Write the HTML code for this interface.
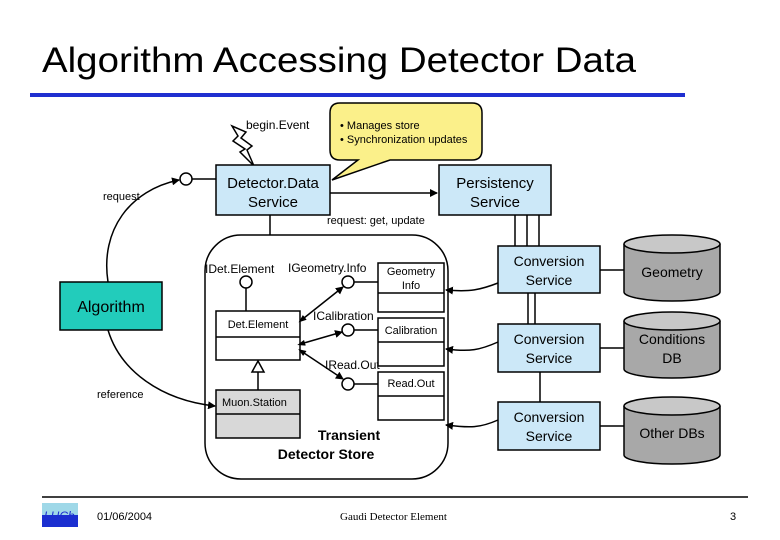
<!DOCTYPE html>
<html><head><meta charset="utf-8"><style>
html,body{margin:0;padding:0;background:#fff;width:780px;height:540px;overflow:hidden}
svg{display:block}
text{font-family:"Liberation Sans",sans-serif;fill:#000}
</style></head><body>
<svg width="780" height="540" viewBox="0 0 780 540" xmlns="http://www.w3.org/2000/svg">
<defs>
<marker id="ar" markerWidth="8" markerHeight="8" refX="7" refY="4" orient="auto" markerUnits="userSpaceOnUse"><path d="M0,0 L8,4 L0,8 z" fill="#000"/></marker>
<marker id="as" markerWidth="8" markerHeight="8" refX="1" refY="4" orient="auto-start-reverse" markerUnits="userSpaceOnUse"><path d="M0,1 L8,4 L0,7 z" fill="#000"/></marker>
</defs>
<text x="42" y="72" font-size="35" textLength="594" lengthAdjust="spacingAndGlyphs">Algorithm Accessing Detector Data</text>
<rect x="30" y="93" width="655" height="4" fill="#1f2fd0"/>

<!-- callout -->
<path d="M340,103 H472 Q482,103 482,113 V150 Q482,160 472,160 H390 L332,180 L358,160 H340 Q330,160 330,150 V113 Q330,103 340,103 Z" fill="#fbf08a" stroke="#000" stroke-width="1.5"/>
<text x="340" y="129" font-size="11">• Manages store</text>
<text x="340" y="143" font-size="11">• Synchronization updates</text>
<!-- bolt -->
<path d="M232,126 L246,132 L241,138 L252,146 L247,150 L254,166 L240,152 L245,149 L233,141 L238,136 Z" fill="#fff" stroke="#000" stroke-width="1.5"/>
<text x="246" y="129" font-size="12">begin.Event</text>

<rect x="216" y="165" width="114" height="50" fill="#cce8f8" stroke="#000" stroke-width="1.5"/>
<text x="273" y="188" font-size="15" text-anchor="middle">Detector.Data</text>
<text x="273" y="207" font-size="15" text-anchor="middle">Service</text>
<rect x="439" y="165" width="112" height="50" fill="#cce8f8" stroke="#000" stroke-width="1.5"/>
<text x="495" y="188" font-size="15" text-anchor="middle">Persistency</text>
<text x="495" y="207" font-size="15" text-anchor="middle">Service</text>
<line x1="330" y1="193" x2="437" y2="193" stroke="#000" stroke-width="1.5" marker-end="url(#ar)"/>
<text x="327" y="224" font-size="11">request: get, update</text>
<circle cx="186" cy="179" r="6" fill="#fff" stroke="#000" stroke-width="1.5"/>
<line x1="192" y1="179" x2="216" y2="179" stroke="#000" stroke-width="1.5"/>
<path d="M108,282 C100,230 130,190 179,180" fill="none" stroke="#000" stroke-width="1.5" marker-end="url(#ar)"/>
<text x="103" y="200" font-size="11">request</text>
<text x="97" y="398" font-size="11">reference</text>

<rect x="60" y="282" width="102" height="48" fill="#22ccbb" stroke="#000" stroke-width="1.5"/>
<text x="111" y="312" font-size="16" text-anchor="middle">Algorithm</text>

<!-- store -->
<line x1="270" y1="215" x2="270" y2="235" stroke="#000" stroke-width="1.5"/>
<rect x="205" y="235" width="243" height="244" rx="36" fill="#fff" stroke="#000" stroke-width="1.5"/>
<path d="M108,330 C120,370 160,400 215,406" fill="none" stroke="#000" stroke-width="1.5" marker-end="url(#ar)"/>
<line x1="515" y1="215" x2="515" y2="246" stroke="#000" stroke-width="1.5"/>
<line x1="527" y1="215" x2="527" y2="246" stroke="#000" stroke-width="1.5"/>
<line x1="539" y1="215" x2="539" y2="246" stroke="#000" stroke-width="1.5"/>
<line x1="528" y1="293" x2="528" y2="324" stroke="#000" stroke-width="1.5"/>
<line x1="535" y1="293" x2="535" y2="324" stroke="#000" stroke-width="1.5"/>
<line x1="540" y1="372" x2="540" y2="402" stroke="#000" stroke-width="1.5"/>

<text x="205" y="273" font-size="12">IDet.Element</text>
<circle cx="246" cy="282" r="6" fill="#fff" stroke="#000" stroke-width="1.5"/>
<line x1="246" y1="288" x2="246" y2="311" stroke="#000" stroke-width="1.5"/>
<rect x="216" y="311" width="84" height="49" fill="#fff" stroke="#000" stroke-width="1.5"/>
<line x1="216" y1="337" x2="300" y2="337" stroke="#000" stroke-width="1.5"/>
<text x="258" y="328" font-size="11" text-anchor="middle">Det.Element</text>
<path d="M258,361 L252,372 L264,372 Z" fill="#fff" stroke="#000" stroke-width="1.5"/>
<line x1="258" y1="372" x2="258" y2="390" stroke="#000" stroke-width="1.5"/>
<rect x="216" y="390" width="84" height="48" fill="#d8d8d8" stroke="#000" stroke-width="1.5"/>
<line x1="216" y1="414" x2="300" y2="414" stroke="#000" stroke-width="1.5"/>
<text x="222" y="406" font-size="11">Muon.Station</text>

<text x="288" y="272" font-size="12">IGeometry.Info</text>
<text x="313" y="320" font-size="12">ICalibration</text>
<text x="325" y="369" font-size="12">IRead.Out</text>
<circle cx="348" cy="282" r="6" fill="#fff" stroke="#000" stroke-width="1.5"/>
<circle cx="348" cy="330" r="6" fill="#fff" stroke="#000" stroke-width="1.5"/>
<circle cx="348" cy="384" r="6" fill="#fff" stroke="#000" stroke-width="1.5"/>
<line x1="354" y1="282" x2="378" y2="282" stroke="#000" stroke-width="1.5"/>
<line x1="354" y1="330" x2="378" y2="330" stroke="#000" stroke-width="1.5"/>
<line x1="354" y1="384" x2="378" y2="384" stroke="#000" stroke-width="1.5"/>
<line x1="304" y1="318" x2="343" y2="287" stroke="#000" stroke-width="1.5" marker-start="url(#as)" marker-end="url(#ar)"/>
<line x1="304" y1="343" x2="342" y2="332" stroke="#000" stroke-width="1.5" marker-start="url(#as)" marker-end="url(#ar)"/>
<line x1="304" y1="353" x2="343" y2="379" stroke="#000" stroke-width="1.5" marker-start="url(#as)" marker-end="url(#ar)"/>

<rect x="378" y="263" width="66" height="49" fill="#fff" stroke="#000" stroke-width="1.5"/>
<line x1="378" y1="293" x2="444" y2="293" stroke="#000" stroke-width="1.5"/>
<text x="411" y="275" font-size="11" text-anchor="middle">Geometry</text>
<text x="411" y="289" font-size="11" text-anchor="middle">Info</text>
<rect x="378" y="318" width="66" height="48" fill="#fff" stroke="#000" stroke-width="1.5"/>
<line x1="378" y1="342" x2="444" y2="342" stroke="#000" stroke-width="1.5"/>
<text x="411" y="334" font-size="11" text-anchor="middle">Calibration</text>
<rect x="378" y="372" width="66" height="48" fill="#fff" stroke="#000" stroke-width="1.5"/>
<line x1="378" y1="396" x2="444" y2="396" stroke="#000" stroke-width="1.5"/>
<text x="411" y="387" font-size="11" text-anchor="middle">Read.Out</text>

<text x="349" y="440" font-size="14" font-weight="bold" text-anchor="middle">Transient</text>
<text x="326" y="459" font-size="14" font-weight="bold" text-anchor="middle">Detector Store</text>

<path d="M498,283 C480,290 470,292 446,290" fill="none" stroke="#000" stroke-width="1.5" marker-end="url(#ar)"/>
<path d="M498,342 C480,350 470,352 446,349" fill="none" stroke="#000" stroke-width="1.5" marker-end="url(#ar)"/>
<path d="M498,420 C480,428 470,428 446,425" fill="none" stroke="#000" stroke-width="1.5" marker-end="url(#ar)"/>

<g stroke="#000" stroke-width="1.5">
<rect x="498" y="246" width="102" height="47" fill="#cce8f8"/>
<rect x="498" y="324" width="102" height="48" fill="#cce8f8"/>
<rect x="498" y="402" width="102" height="48" fill="#cce8f8"/>
<line x1="600" y1="270" x2="624" y2="270"/>
<line x1="600" y1="348" x2="624" y2="348"/>
<line x1="600" y1="426" x2="624" y2="426"/>
</g>
<text x="549" y="266" font-size="14" text-anchor="middle">Conversion</text>
<text x="549" y="285" font-size="14" text-anchor="middle">Service</text>
<text x="549" y="344" font-size="14" text-anchor="middle">Conversion</text>
<text x="549" y="363" font-size="14" text-anchor="middle">Service</text>
<text x="549" y="422" font-size="14" text-anchor="middle">Conversion</text>
<text x="549" y="441" font-size="14" text-anchor="middle">Service</text>

<g stroke="#000" stroke-width="1.5">
<path d="M624,244 V292 A48,9 0 0 0 720,292 V244" fill="#a8a8a8"/>
<ellipse cx="672" cy="244" rx="48" ry="9" fill="#c8c8c8"/>
<path d="M624,321 V369 A48,9 0 0 0 720,369 V321" fill="#a8a8a8"/>
<ellipse cx="672" cy="321" rx="48" ry="9" fill="#c8c8c8"/>
<path d="M624,406 V455 A48,9 0 0 0 720,455 V406" fill="#a8a8a8"/>
<ellipse cx="672" cy="406" rx="48" ry="9" fill="#c8c8c8"/>
</g>
<text x="672" y="277" font-size="14" text-anchor="middle">Geometry</text>
<text x="672" y="344" font-size="14" text-anchor="middle">Conditions</text>
<text x="672" y="363" font-size="14" text-anchor="middle">DB</text>
<text x="672" y="438" font-size="14" text-anchor="middle">Other DBs</text>

<line x1="42" y1="497" x2="748" y2="497" stroke="#000" stroke-width="1.5"/>
<rect x="42" y="503" width="36" height="24" fill="#9fd8e8"/>
<rect x="42" y="515" width="36" height="12" fill="#1b2fd0"/>
<text x="44" y="520" font-size="12" font-style="italic" style="fill:#1b2fd0">LHCb</text>
<text x="97" y="520" font-size="11">01/06/2004</text>
<text x="340" y="520" font-size="11" style="font-family:'Liberation Serif',serif">Gaudi Detector Element</text>
<text x="730" y="520" font-size="11">3</text>
</svg>
</body></html>
